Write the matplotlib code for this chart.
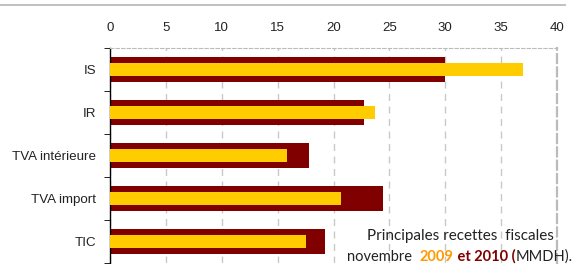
import matplotlib.pyplot as plt
import numpy as np
from matplotlib.lines import Line2D

# recettes fiscales, novembre (MMDH)
categories = ["IS", "IR", "TVA intérieure", "TVA import", "TIC"]
values_2010 = [30.0, 22.7, 17.8, 24.4, 19.2]
values_2009 = [37.0, 23.7, 15.8, 20.7, 17.5]
x_ticks = [0, 5, 10, 15, 20, 25, 30, 35, 40]

DARK_RED = "#800000"
YELLOW = "#FFCC00"
ORANGE = "#FF9900"

fig = plt.figure(figsize=(5.74, 2.64), dpi=100)
ax = fig.add_axes([110 / 574, 1 - 263 / 264, (557 - 110) / 574, (263 - 48) / 264])

y = np.arange(len(categories))
ax.barh(y, values_2010, height=0.565, color=DARK_RED, zorder=2)
ax.barh(y, values_2009, height=0.30, color=YELLOW, zorder=3)

ax.set_xlim(0, 40)
ax.set_ylim(len(categories) - 0.5, -0.5)

ax.xaxis.tick_top()
ax.set_xticks(x_ticks)
ax.set_xticklabels([str(t) for t in x_ticks], fontsize=9.5,
                   family="Liberation Sans", color="#222222")
ax.tick_params(axis="x", length=0, pad=10)
ax.grid(axis="x", color="#C8C8C8", linestyle=(0, (5, 4)), linewidth=1.0, zorder=1)

ax.set_yticks(y)
ax.set_yticklabels(categories, fontsize=9.6, family="Liberation Sans", color="#222222")
ax.set_yticks(np.arange(-0.5, len(categories), 1), minor=True)
ax.tick_params(axis="y", which="major", length=0, pad=10)
ax.tick_params(axis="y", which="minor", length=4, direction="out", color="black")

ax.spines["left"].set_color("black")
ax.spines["left"].set_linewidth(1.0)
ax.spines["bottom"].set_visible(False)
ax.spines["top"].set_color("#BBBBBB")
ax.spines["top"].set_linestyle((0, (3, 2)))
ax.spines["right"].set_color("#BBBBBB")
ax.spines["right"].set_linestyle((0, (4, 2)))
ax.spines["right"].set_linewidth(1.6)

# gray rule at the top of the figure
fig.add_artist(Line2D([0, 565 / 574], [1 - 5 / 264, 1 - 5 / 264],
                      transform=fig.transFigure, color="#C0C0C0", linewidth=1.4))

# caption
font = dict(family="Lato", fontsize=10.5)
fig.text(460 / 574, 1 - 240 / 264, "Principales recettes  fiscales",
         ha="center", va="baseline", color="#222222", family="Lato", fontsize=11)
parts = [("novembre  ", "#222222", "normal"), ("2009", ORANGE, "bold"),
         (" et 2010 (", DARK_RED, "bold"), ("MMDH).", "#222222", "normal")]
fig.canvas.draw()
renderer = fig.canvas.get_renderer()
widths = []
texts = []
for s, c, w in parts:
    t = fig.text(0, 1 - 261 / 264, s, color=c, fontweight=w, va="baseline", **font)
    texts.append(t)
    widths.append(t.get_window_extent(renderer).width)
total = sum(widths)
x0 = 460 - total / 2
for t, wd in zip(texts, widths):
    t.set_x(x0 / 574)
    x0 += wd

fig.savefig("out.png", dpi=100)
